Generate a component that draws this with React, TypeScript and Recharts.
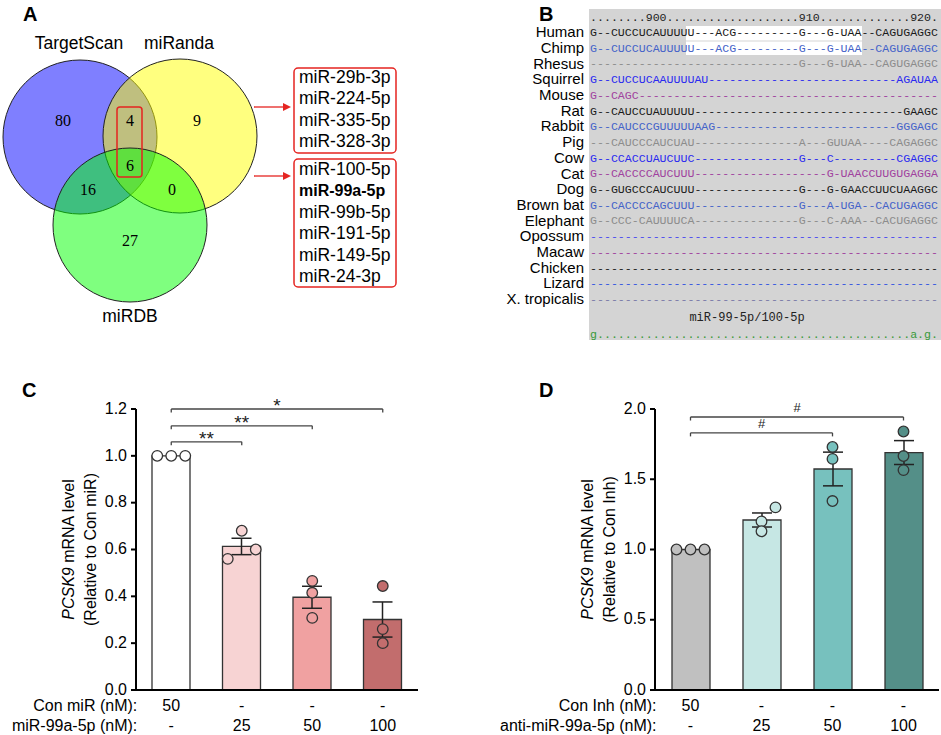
import React from "react";
import {
  ComposedChart,
  Bar,
  Cell,
  ErrorBar,
  Scatter,
  XAxis,
  YAxis,
  ReferenceLine,
  Surface,
} from "recharts";

const SANS = '"Liberation Sans", Arial, sans-serif';
const SERIF = '"Liberation Serif", "Times New Roman", serif';
const MONO = '"Liberation Mono", "DejaVu Sans Mono", monospace';

// ---- panel A: Venn of predicted miRNAs ----
const vennSets = ["TargetScan", "miRanda", "miRDB"];
// TS only, miRanda only, miRDB only, TS+miRanda, TS+miRDB, miRanda+miRDB, all three
const vennCounts = [80, 9, 27, 4, 16, 0, 6];
const sharedFour = ["miR-29b-3p", "miR-224-5p", "miR-335-5p", "miR-328-3p"];
const sharedSix = ["miR-100-5p", "miR-99a-5p", "miR-99b-5p", "miR-191-5p", "miR-149-5p", "miR-24-3p"];
const focusMiR = "miR-99a-5p";

// ---- panel B: TargetScan alignment ----
const d = (n: number) => "-".repeat(n);
const dots = (n: number) => ".".repeat(n);
const species = [
  "Human", "Chimp", "Rhesus", "Squirrel", "Mouse", "Rat", "Rabbit", "Pig", "Cow",
  "Cat", "Dog", "Brown bat", "Elephant", "Opossum", "Macaw", "Chicken", "Lizard", "X. tropicalis",
];
const alignment = [
  `G--CUCCUCAUUUUU---ACG${d(9)}G---G-UAA--CAGUGAGGC`,
  `G--CUCCUCAUUUUU---ACG${d(9)}G---G-UAA--CAGUGAGGC`,
  `${d(30)}G---G-UAA--CAGUGAGGC`,
  `G--CUCCUCAAUUUUAU${d(27)}AGAUAA`,
  `G--CAGC${d(43)}`,
  `G--CAUCCUAUUUUU${d(30)}GAAGC`,
  `G--CAUCCCGUUUUUAAG${d(26)}GGGAGC`,
  `---CAUCCCAUCUAU${d(15)}A---GUUAA----CAGAGGC`,
  `G--CCACCUAUCUUC${d(15)}G---C${d(9)}CGAGGC`,
  `G--CACCCCAUCUUU${d(19)}G-UAACCUUGUGAGGA`,
  `G--GUGCCCAUCUUU${d(15)}G---G-GAACCUUCUAAGGC`,
  `G--CACCCCAGCUUU${d(15)}G---A-UGA--CACUGAGGC`,
  `G--CCC-CAUUUUCA${d(15)}G---C-AAA--CACUGAGGC`,
  d(50),
  d(50),
  d(50),
  d(50),
  d(50),
];
const ruler = `${dots(8)}900${dots(19)}910${dots(13)}920.`;
const siteLabel = "miR-99-5p/100-5p";
const consensus = `g${dots(45)}a.g.`;
const speciesColors = [
  "#1a1a1a", "#4563c9", "#8c8c8c", "#2a2af0", "#a0429e",
  "#1a1a1a", "#4563c9", "#8c8c8c", "#2a2af0", "#a0429e",
  "#1a1a1a", "#4563c9", "#8c8c8c", "#4a4af0", "#a0429e",
  "#1a1a1a", "#3355e0", "#7a7aa8",
];

// ---- panel C: miR-99a-5p mimic ----
const groupsC = ["Con miR 50", "miR-99a-5p 25", "miR-99a-5p 50", "miR-99a-5p 100"];
const conMiR = ["50", "-", "-", "-"];
const mimic = ["-", "25", "50", "100"];
const meanC = [1.0, 0.613, 0.396, 0.301];
const semC = [0, 0.035, 0.047, 0.075];
const repsC = [
  [1.0, 1.0, 1.0],
  [0.56, 0.68, 0.6],
  [0.466, 0.415, 0.308],
  [0.444, 0.26, 0.2],
];
const bracketEndsC = ["miR-99a-5p 100", "miR-99a-5p 50", "miR-99a-5p 25"];
const bracketLevelsC = [1.2, 1.128, 1.06];
const bracketMarksC = ["*", "**", "**"];

// ---- panel D: anti-miR-99a-5p ----
const groupsD = ["Con Inh 50", "anti 25", "anti 50", "anti 100"];
const conInh = ["50", "-", "-", "-"];
const antiMiR = ["-", "25", "50", "100"];
const meanD = [1.0, 1.21, 1.573, 1.69];
const semD = [0, 0.05, 0.12, 0.085];
const repsD = [
  [1.0, 1.0, 1.0],
  [1.2, 1.13, 1.3],
  [1.73, 1.645, 1.345],
  [1.84, 1.665, 1.565],
];
const bracketEndsD = ["anti 100", "anti 50"];
const bracketLevelsD = [1.943, 1.83];
const bracketMarksD = ["#", "#"];

type Bracket = { to: string; y: number; mark: string };

type PanelProps = {
  groups: string[];
  means: number[];
  sems: number[];
  reps: number[][];
  fills: string[];
  jitter: number[][];
  yMax: number;
  yTicks: number[];
  heads: string[];
  row1: string[];
  row2: string[];
  title2: string;
  brackets: Bracket[];
  markSize: number;
  markOffset: number;
  width: number;
  left: number;
  right: number;
};

function YTitle(props: any) {
  const vb = props.viewBox;
  if (!vb) return null;
  const axisX = vb.x + vb.width;
  const cy = vb.y + vb.height / 2;
  return (
    <g fontFamily={SANS} fontSize={16} fill="#000">
      <text transform={`translate(${axisX - 68},${cy}) rotate(-90)`} textAnchor="middle" dy="0.35em">
        <tspan fontStyle="italic">PCSK9</tspan> mRNA level
      </text>
      <text transform={`translate(${axisX - 46},${cy}) rotate(-90)`} textAnchor="middle" dy="0.35em">
        {props.second}
      </text>
    </g>
  );
}

function BarPanel(p: PanelProps) {
  const table = p.groups.map((g, i) => ({
    group: g,
    mean: p.means[i],
    sem: p.sems[i],
    r1: p.reps[i][0],
    r2: p.reps[i][1],
    r3: p.reps[i][2],
  }));
  const drop = (p.yMax * 3.5) / 281;

  const RowTick = (t: any) => {
    const i = t.index;
    return (
      <g fontFamily={SANS} fontSize={16} fill="#000">
        <text x={t.x} y={t.y + 21} textAnchor="middle">{p.row1[i]}</text>
        <text x={t.x} y={t.y + 41} textAnchor="middle">{p.row2[i]}</text>
        {i === 0 && (
          <>
            <text x={t.x - 34} y={t.y + 21} textAnchor="end">{p.heads[0]}</text>
            <text x={t.x - 34} y={t.y + 41} textAnchor="end">{p.heads[1]}</text>
          </>
        )}
      </g>
    );
  };

  const dot = (k: number) => (s: any) => {
    const gi = p.groups.indexOf(s.payload.group);
    return (
      <circle
        cx={s.cx + p.jitter[gi][k]}
        cy={s.cy}
        r={5.3}
        fill={p.fills[gi]}
        stroke="#333"
        strokeWidth={1.3}
      />
    );
  };

  return (
    <ComposedChart
      width={p.width}
      height={375}
      data={table}
      margin={{ top: 49, right: p.right, bottom: 5, left: p.left }}
    >
      <XAxis
        dataKey="group"
        height={40}
        interval={0}
        tickSize={0}
        tickMargin={0}
        tickLine={false}
        axisLine={{ stroke: "#000", strokeWidth: 2 }}
        tick={<RowTick />}
      />
      <YAxis
        width={40}
        domain={[0, p.yMax]}
        ticks={p.yTicks}
        allowDataOverflow
        tickSize={5}
        tickMargin={4}
        axisLine={{ stroke: "#000", strokeWidth: 2 }}
        tickLine={{ stroke: "#000", strokeWidth: 2 }}
        tick={{ fontSize: 16, fill: "#000", fontFamily: SANS, dy: -1 }}
        tickFormatter={(v: number) => v.toFixed(1)}
        label={<YTitle second={p.title2} />}
      />
      {p.brackets.map((b, i) => (
        <ReferenceLine
          key={`b${i}`}
          ifOverflow="visible"
          segment={[{ x: p.groups[0], y: b.y }, { x: b.to, y: b.y }]}
          stroke="#444"
          strokeWidth={1.3}
          label={{
            value: b.mark,
            position: "top",
            offset: p.markOffset,
            fontSize: p.markSize,
            fill: "#222",
            fontFamily: SANS,
          }}
        />
      ))}
      {p.brackets.map((b, i) => (
        <ReferenceLine
          key={`l${i}`}
          ifOverflow="visible"
          segment={[{ x: p.groups[0], y: b.y }, { x: p.groups[0], y: b.y - drop }]}
          stroke="#444"
          strokeWidth={1.3}
        />
      ))}
      {p.brackets.map((b, i) => (
        <ReferenceLine
          key={`r${i}`}
          ifOverflow="visible"
          segment={[{ x: b.to, y: b.y }, { x: b.to, y: b.y - drop }]}
          stroke="#444"
          strokeWidth={1.3}
        />
      ))}
      <Bar dataKey="mean" barSize={38} stroke="#333" strokeWidth={1.3} isAnimationActive={false}>
        {table.map((row, i) => (
          <Cell key={row.group} fill={p.fills[i]} />
        ))}
        <ErrorBar dataKey="sem" width={10} stroke="#222" strokeWidth={1.5} direction="y" />
      </Bar>
      <Scatter dataKey="r1" shape={dot(0)} isAnimationActive={false} />
      <Scatter dataKey="r2" shape={dot(1)} isAnimationActive={false} />
      <Scatter dataKey="r3" shape={dot(2)} isAnimationActive={false} />
    </ComposedChart>
  );
}

function TopPanels() {
  const [tsOnly, mrOnly, dbOnly, tsMr, tsDb, mrDb, all] = vennCounts;
  const countSpots = [
    [tsOnly, 63, 120],
    [mrOnly, 197, 120],
    [dbOnly, 130, 240],
    [tsMr, 130, 120],
    [tsDb, 88, 189],
    [mrDb, 172, 189],
    [all, 130, 165],
  ];
  const red = "#e52521";
  const rowY = (i: number) => 32 + i * 15.7;
  return (
    <Surface width={941} height={735}>
      {/* panel letters */}
      <g fontFamily={SANS} fontSize={20} fontWeight="bold" fill="#000">
        <text x={23} y={21}>A</text>
        <text x={539} y={21}>B</text>
        <text x={22} y={397}>C</text>
        <text x={539} y={397}>D</text>
      </g>

      {/* A: Venn */}
      <circle cx={80} cy={137} r={77} fill="#0000ff" fillOpacity={0.5} stroke="#222" strokeWidth={1} />
      <circle cx={180} cy={136} r={77} fill="#ffff00" fillOpacity={0.5} stroke="#222" strokeWidth={1} />
      <circle cx={130} cy={225} r={77} fill="#00ff00" fillOpacity={0.5} stroke="#222" strokeWidth={1} />
      <g fontFamily={SERIF} fontSize={16} fill="#000" textAnchor="middle">
        {countSpots.map(([v, x, y], i) => (
          <text key={i} x={x} y={y} dy="0.35em">{v}</text>
        ))}
      </g>
      <g fontFamily={SANS} fontSize={17.5} fill="#000" textAnchor="middle">
        <text x={79} y={43} dy="0.35em">{vennSets[0]}</text>
        <text x={179} y={43} dy="0.35em">{vennSets[1]}</text>
        <text x={130} y={316} dy="0.35em">{vennSets[2]}</text>
      </g>
      <rect x={117} y={107} width={25} height={70} rx={3} fill="none" stroke={red} strokeWidth={1.5} />
      {[107, 176].map((y) => (
        <g key={y}>
          <line x1={254} y1={y} x2={284} y2={y} stroke={red} strokeWidth={1.3} />
          <polygon points={`${283},${y - 4} ${291},${y} ${283},${y + 4}`} fill={red} />
        </g>
      ))}
      <rect x={294} y={68} width={102} height={85} rx={4} fill="none" stroke={red} strokeWidth={1.5} />
      <rect x={294} y={159} width={102} height={128} rx={4} fill="none" stroke={red} strokeWidth={1.5} />
      <g fontFamily={SANS} fill="#000">
        {sharedFour.map((m, i) => (
          <text key={m} x={299} y={77 + i * 21.3} dy="0.35em" fontSize={17.5}>{m}</text>
        ))}
        {sharedSix.map((m, i) => (
          <text
            key={m}
            x={299}
            y={169 + i * 21.4}
            dy="0.35em"
            fontSize={m === focusMiR ? 16 : 17.5}
            fontWeight={m === focusMiR ? "bold" : "normal"}
          >
            {m}
          </text>
        ))}
      </g>

      {/* B: alignment */}
      <rect x={589} y={9} width={352} height={331} fill="#d4d4d4" />
      <rect x={686} y={26} width={176} height={14.5} fill="#ffffff" />
      <rect x={686} y={41.5} width={176} height={13.5} fill="#ffffff" />
      <g fontFamily={MONO} fontSize={11.5}>
        <text x={590} y={17} dy="0.35em" textLength={348} lengthAdjust="spacingAndGlyphs" fill="#222">
          {ruler}
        </text>
        {alignment.map((s, i) => (
          <text
            key={species[i]}
            x={590}
            y={rowY(i)}
            dy="0.35em"
            textLength={348}
            lengthAdjust="spacingAndGlyphs"
            fill={speciesColors[i]}
          >
            {s}
          </text>
        ))}
        <text x={747} y={317} dy="0.35em" textAnchor="middle" fill="#222" fontSize={12}>{siteLabel}</text>
        <text x={590} y={334} dy="0.35em" textLength={348} lengthAdjust="spacingAndGlyphs" fill="#3a9a3a">
          {consensus}
        </text>
      </g>
      <g fontFamily={SANS} fontSize={15} fill="#000" textAnchor="end">
        {species.map((s, i) => (
          <text key={s} x={584} y={rowY(i)} dy="0.35em">{s}</text>
        ))}
      </g>
    </Surface>
  );
}

export default function App() {
  return (
    <div
      style={{
        position: "absolute",
        left: 0,
        top: 0,
        width: 941,
        height: 735,
        background: "#fff",
        fontFamily: SANS,
        overflow: "hidden",
      }}
    >
      <div style={{ position: "absolute", left: 0, top: 0 }}>
        <TopPanels />
      </div>
      <div style={{ position: "absolute", left: 0, top: 360 }}>
        <BarPanel
          groups={groupsC}
          means={meanC}
          sems={semC}
          reps={repsC}
          fills={["#ffffff", "#f7d3d3", "#f0a1a1", "#c26d6d"]}
          jitter={[[-14, 0, 14], [-14, 0, 14], [0, 0, 0], [0, 0, 0]]}
          yMax={1.2}
          yTicks={[0, 0.2, 0.4, 0.6, 0.8, 1.0, 1.2]}
          heads={["Con miR (nM):", "miR-99a-5p (nM):"]}
          row1={conMiR}
          row2={mimic}
          title2="(Relative to Con miR)"
          brackets={bracketEndsC.map((to, i) => ({ to, y: bracketLevelsC[i], mark: bracketMarksC[i] }))}
          markSize={19}
          markOffset={-3}
          width={470}
          left={96}
          right={52}
        />
      </div>
      <div style={{ position: "absolute", left: 470, top: 360 }}>
        <BarPanel
          groups={groupsD}
          means={meanD}
          sems={semD}
          reps={repsD}
          fills={["#c0c0c0", "#c6e7e4", "#77c1be", "#548f88"]}
          jitter={[[-14, 0, 14], [0, 0, 14], [0, 0, 0], [0, 0, 0]]}
          yMax={2}
          yTicks={[0, 0.5, 1.0, 1.5, 2.0]}
          heads={["Con Inh (nM):", "anti-miR-99a-5p (nM):"]}
          row1={conInh}
          row2={antiMiR}
          title2="(Relative to Con Inh)"
          brackets={bracketEndsD.map((to, i) => ({ to, y: bracketLevelsD[i], mark: bracketMarksD[i] }))}
          markSize={13}
          markOffset={5}
          width={471}
          left={145}
          right={2}
        />
      </div>
    </div>
  );
}
